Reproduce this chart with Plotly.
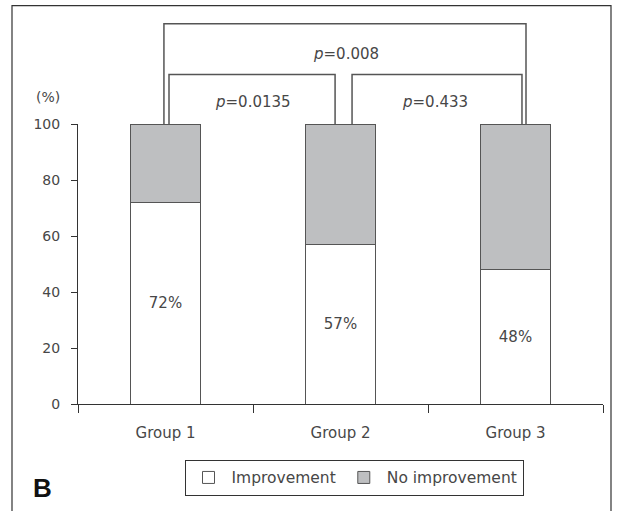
import plotly.graph_objects as go

groups = ["Group 1", "Group 2", "Group 3"]
improvement = [72, 57, 48]
no_improvement = [28, 43, 52]
pct_labels = ["72%", "57%", "48%"]
p_labels = ["<i>p</i>=0.0135", "<i>p</i>=0.433", "<i>p</i>=0.008"]

FONT = "DejaVu Sans"
TXT = "#474747"
LINE = "#555555"

fig = go.Figure()
fig.add_trace(go.Bar(
    x=groups, y=improvement, name="Improvement", width=0.4,
    marker=dict(color="white", line=dict(color=LINE, width=1)),
    text=pct_labels, textposition="inside", insidetextanchor="middle",
    textfont=dict(family=FONT, size=15, color=TXT), hoverinfo="skip"))
fig.add_trace(go.Bar(
    x=groups, y=no_improvement, name="No improvement", width=0.4,
    marker=dict(color="#bebfc1", line=dict(color=LINE, width=1)),
    hoverinfo="skip"))

# geometry helpers (pixel-derived layout positions)
def py(p):
    return (404 - p) / 280.5

bar_top = 1.0
inner_top = py(74)
outer_top = py(23)

shapes = []
def bracket(x0, x1, ytop):
    shapes.append(dict(type="path", xref="x", yref="paper",
                       path=f"M {x0} {bar_top} L {x0} {ytop} L {x1} {ytop} L {x1} {bar_top}",
                       line=dict(color=LINE, width=1.5)))

bracket(0.02, 0.969, inner_top)
bracket(1.066, 2.037, inner_top)
bracket(-0.009, 2.06, outer_top)

# outer frame (open at bottom)
fx0 = (12 - 78) / 525
fx1 = (611 - 78) / 525
shapes.append(dict(type="path", xref="paper", yref="paper",
                   path=f"M {fx0} {py(520)} L {fx0} {py(5)} L {fx1} {py(5)} L {fx1} {py(520)}",
                   line=dict(color="#333333", width=1.2)))

def ann(x, y, text, xref="x", size=15, **kw):
    d = dict(x=x, y=y, xref=xref, yref="paper", text=text, showarrow=False,
             xanchor="center", yanchor="middle",
             font=dict(family=FONT, size=size, color=TXT))
    d.update(kw)
    return d

annotations = [
    ann(0.50, py(101), p_labels[0]),
    ann(1.54, py(101), p_labels[1]),
    ann(1.031, py(53), p_labels[2]),
    ann((48 - 78) / 525, py(96), "(%)", xref="paper", size=14),
    dict(x=(31 - 78) / 525, y=py(488), xref="paper", yref="paper", text="<b>B</b>", showarrow=False,
         xanchor="left", yanchor="middle",
         font=dict(family="Liberation Sans", size=26, color="#111111")),
]

fig.update_layout(
    barmode="stack",
    width=618, height=511,
    margin=dict(l=78, r=15, t=124, b=107),
    paper_bgcolor="white", plot_bgcolor="white",
    font=dict(family=FONT, size=15, color=TXT),
    showlegend=True,
    legend=dict(orientation="h", x=(354 - 78) / 525, y=py(478), xanchor="center", yanchor="middle",
                bordercolor="#333333", borderwidth=1, bgcolor="white", itemwidth=36,
                font=dict(family=FONT, size=15.5, color=TXT), traceorder="normal"),
    shapes=shapes, annotations=annotations,
)
fig.update_xaxes(range=[-0.5, 2.5], showline=True, linecolor="#333333", linewidth=1,
                 ticks="outside", tickson="boundaries", ticklen=8, tickcolor="#333333",
                 showgrid=False, ticklabelstandoff=15,
                 tickfont=dict(family=FONT, size=15, color=TXT))
fig.update_yaxes(range=[0, 100], dtick=20, showline=True, linecolor="#333333", linewidth=1,
                 ticks="outside", ticklen=6, tickcolor="#333333", showgrid=False, zeroline=False,
                 ticklabelstandoff=8,
                 tickfont=dict(family=FONT, size=14, color=TXT))

fig.write_html("out.html", config={"displayModeBar": False},
               post_script="document.body.style.margin='0';")
